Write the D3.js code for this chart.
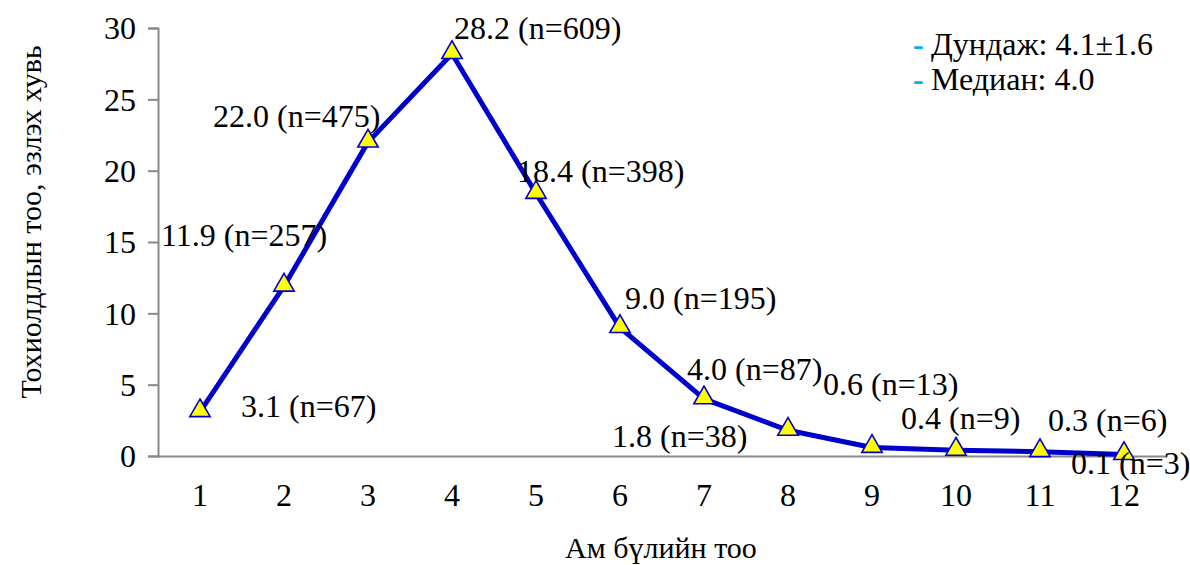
<!DOCTYPE html>
<html>
<head>
<meta charset="utf-8">
<script src="https://cdn.jsdelivr.net/npm/d3@7"></script>
<style>
  html, body { margin: 0; padding: 0; background: #fff; }
  svg { display: block; font-family: "Liberation Serif", "Times New Roman", serif; }
</style>
</head>
<body>
<svg id="chart" width="1190" height="565"></svg>
<script>
// Household size (number of family members) distribution
const categories = ["1", "2", "3", "4", "5", "6", "7", "8", "9", "10", "11", "12"];
const percents = [3.1, 11.9, 22.0, 28.2, 18.4, 9.0, 4.0, 1.8, 0.6, 0.4, 0.3, 0.1];
const counts = [67, 257, 475, 609, 398, 195, 87, 38, 13, 9, 6, 3];
const yTicks = [0, 5, 10, 15, 20, 25, 30];
const legendLines = ["Дундаж: 4.1±1.6", "Медиан: 4.0"];
const yTitle = "Тохиолдлын тоо, эзлэх хувь";
const xTitle = "Ам бүлийн тоо";

// Label placement relative to each point: [dx to left edge, dy to text middle]
const labelOffsets = [
  [41, -6], [-123, -51], [-155, -26], [2, -26], [-19, -23], [5, -30],
  [-17, -30], [-176, 5], [-49, -64], [-55, -32], [8, -32], [-53, 8]
];

const svg = d3.select("#chart");
const margin = { left: 158, right: 25, top: 28, bottom: 109 };
const W = 1190, H = 565;
const serif = "Liberation Serif, Times New Roman, serif";

const x = d3.scaleBand()
  .domain(categories)
  .range([margin.left, margin.left + 84 * categories.length]);
const y = d3.scaleLinear().domain([0, 30]).range([H - margin.bottom, margin.top]);

const axisColor = "#888";
const fontSize = 32;

// Y axis
const yAxis = svg.append("g")
  .attr("transform", `translate(${margin.left},0)`)
  .call(d3.axisLeft(y).tickValues(yTicks).tickSize(10).tickPadding(12));
yAxis.attr("font-family", serif);
yAxis.select(".domain").attr("stroke", axisColor).attr("stroke-width", 2);
yAxis.selectAll(".tick line").attr("stroke", axisColor).attr("stroke-width", 2);
yAxis.selectAll(".tick text")
  .attr("font-size", fontSize)
  .attr("dy", "0.34em")
  .attr("fill", "#000");

// X axis (no tick marks)
const xAxis = svg.append("g")
  .attr("transform", `translate(0,${y(0)})`)
  .call(d3.axisBottom(x).tickSize(0).tickPadding(27).tickSizeOuter(0));
xAxis.attr("font-family", serif);
xAxis.select(".domain").attr("stroke", axisColor).attr("stroke-width", 2);
xAxis.selectAll(".tick text")
  .attr("font-size", fontSize)
  .attr("fill", "#000");

// Axis titles
svg.append("text")
  .attr("transform", `translate(30,${222}) rotate(-90)`)
  .attr("text-anchor", "middle")
  .attr("dominant-baseline", "central")
  .attr("font-size", 30)
  .text(yTitle);

svg.append("text")
  .attr("x", 661)
  .attr("y", 547)
  .attr("text-anchor", "middle")
  .attr("dominant-baseline", "central")
  .attr("font-size", 30)
  .text(xTitle);

// Series line
const cx = (d, i) => x(categories[i]) + x.bandwidth() / 2;
const line = d3.line()
  .x((d, i) => cx(d, i))
  .y(d => y(d));

svg.append("path")
  .datum(percents)
  .attr("fill", "none")
  .attr("stroke", "#0000cc")
  .attr("stroke-width", 5)
  .attr("stroke-linejoin", "round")
  .attr("d", line);

// Triangle markers
const tri = d3.symbol().type(d3.symbolTriangle).size(180);
svg.append("g").selectAll("path")
  .data(percents)
  .join("path")
  .attr("d", tri)
  .attr("transform", (d, i) => `translate(${cx(d, i)},${y(d) - 1})`)
  .attr("fill", "#ffff00")
  .attr("stroke", "#0000cc")
  .attr("stroke-width", 1.6);

// Value labels
svg.append("g").selectAll("text")
  .data(percents)
  .join("text")
  .attr("x", (d, i) => cx(d, i) + labelOffsets[i][0])
  .attr("y", (d, i) => y(d) + labelOffsets[i][1])
  .attr("dy", "0.35em")
  .attr("font-size", fontSize)
  .attr("fill", "#000")
  .text((d, i) => `${d.toFixed(1)} (n=${counts[i]})`);

// Legend notes
const legend = svg.append("g");
legendLines.forEach((t, i) => {
  const ly = 44 + i * 35;
  legend.append("text")
    .attr("x", 913).attr("y", ly).attr("dy", "0.35em")
    .attr("font-size", fontSize).attr("fill", "#00b0f0").attr("font-weight", "bold")
    .text("-");
  legend.append("text")
    .attr("x", 931).attr("y", ly).attr("dy", "0.35em")
    .attr("font-size", fontSize).attr("fill", "#000")
    .text(t);
});
</script>
</body>
</html>
